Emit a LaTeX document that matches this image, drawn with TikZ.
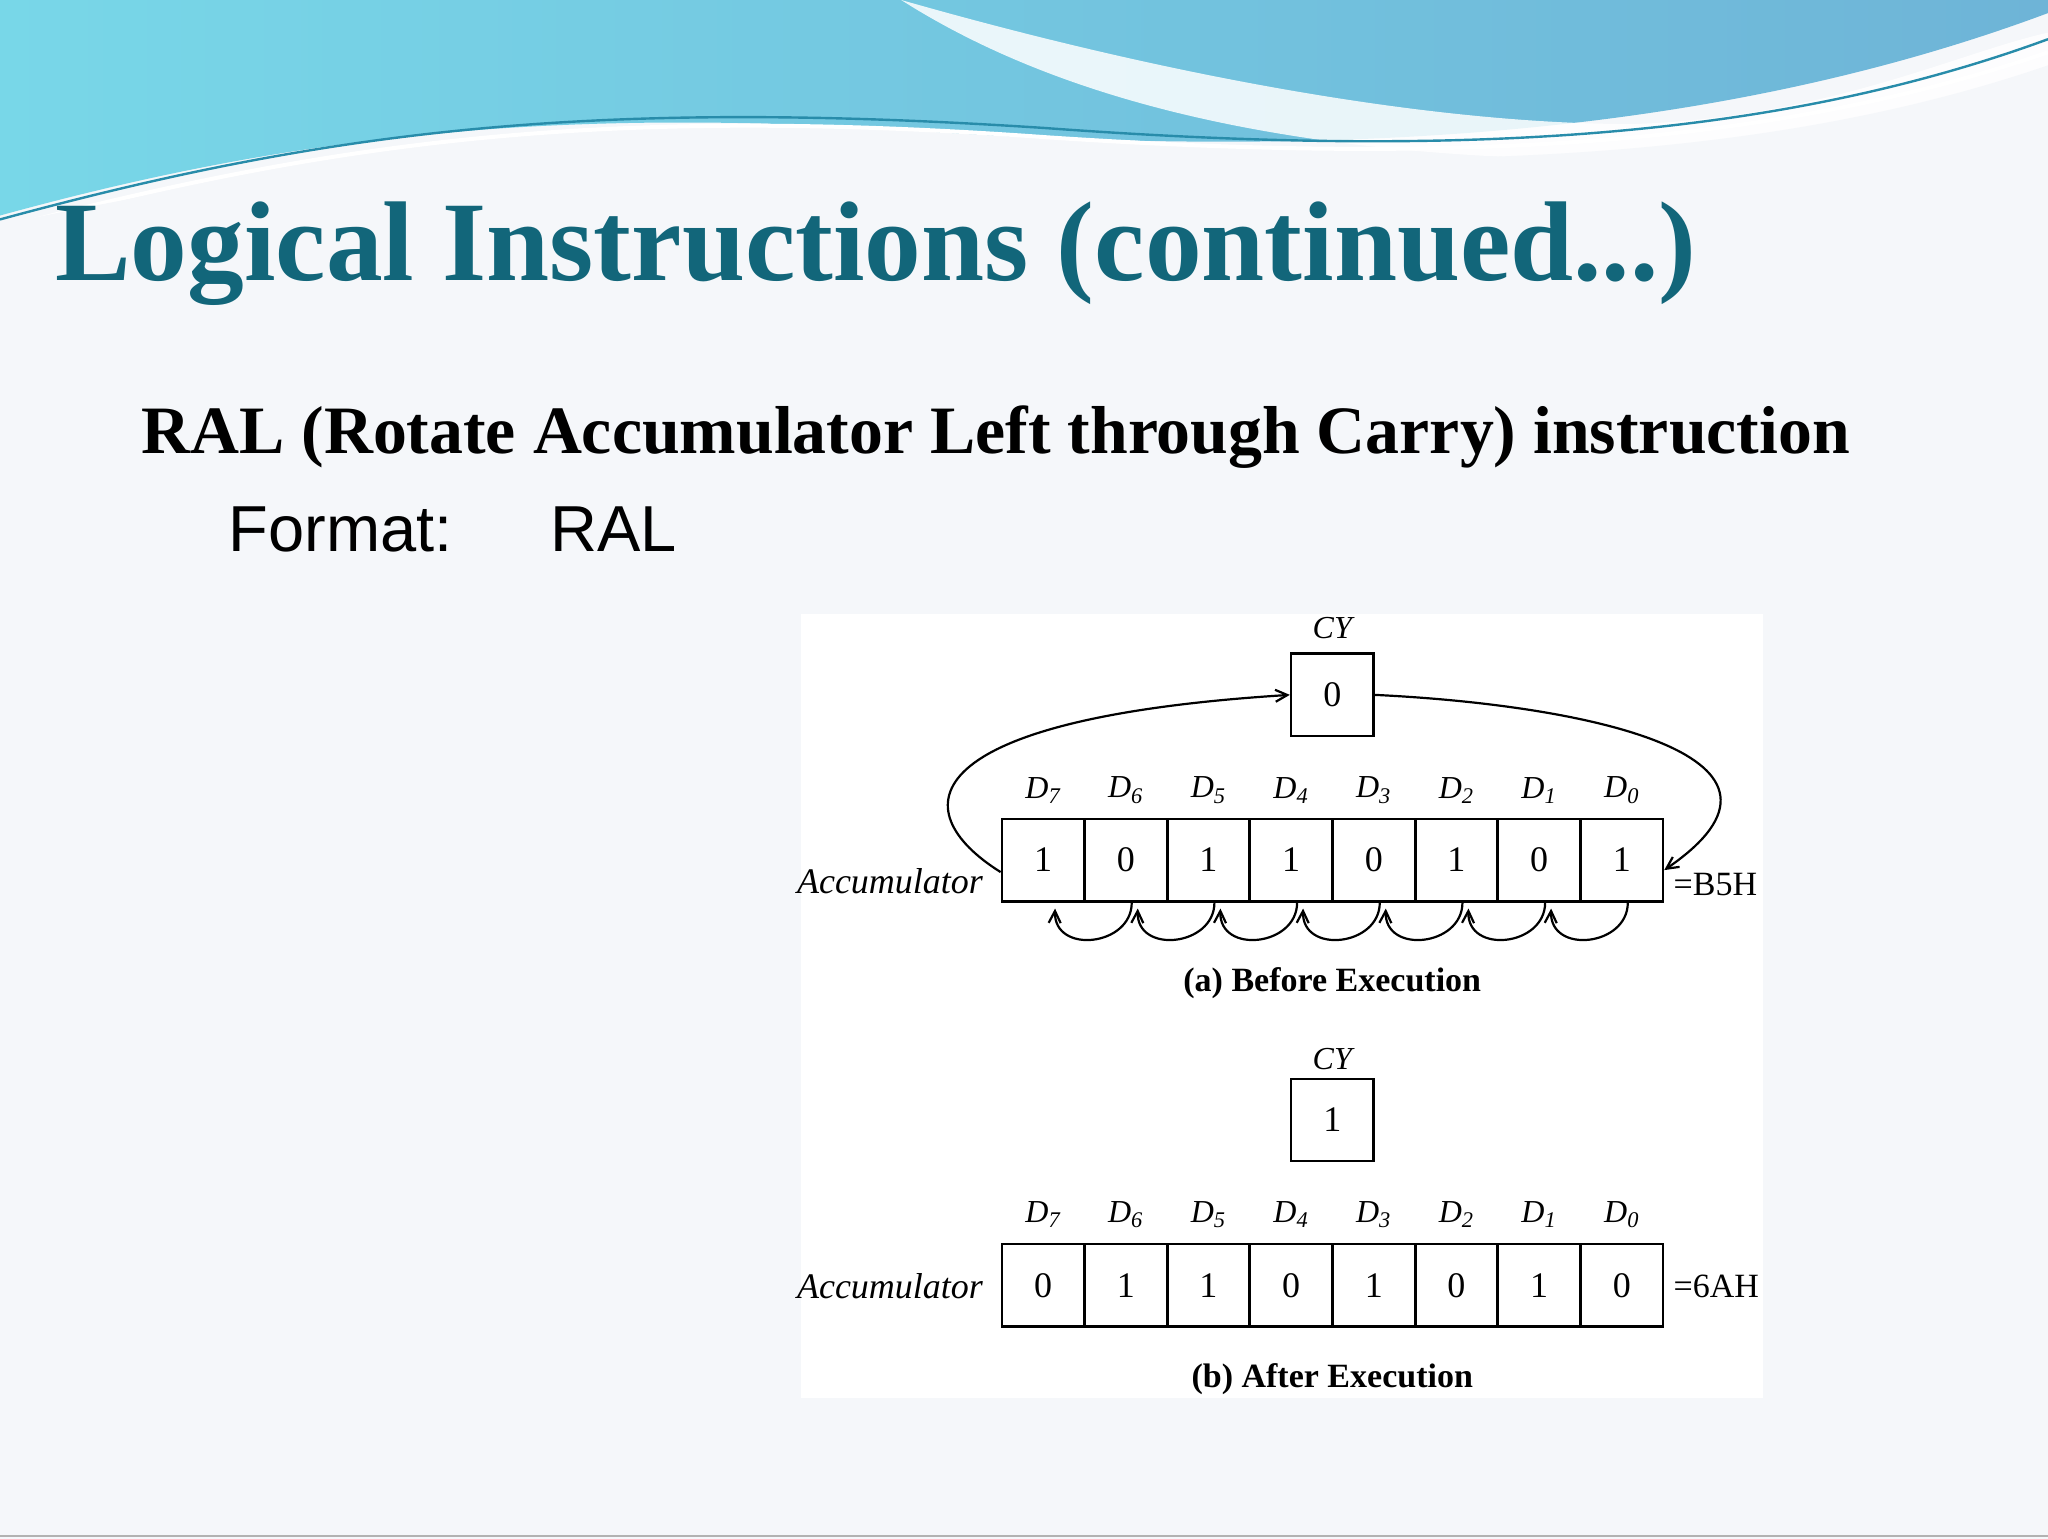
\documentclass[tikz,border=0pt]{standalone}
\usepackage{fontspec}
\setmainfont{Liberation Serif}
\setsansfont{Liberation Sans}
\usetikzlibrary{arrows.meta}
\definecolor{titlec}{HTML}{12667A}
\definecolor{bgc}{HTML}{F5F7FA}
\definecolor{wavel}{RGB}{120,215,232}
\definecolor{waver}{RGB}{110,180,215}
\definecolor{wavel2}{RGB}{40,140,170}
\tikzset{
  cell/.style={draw,line width=1.3pt,minimum width={63*0.6531pt},minimum height={63*0.6531pt},inner sep=0pt,font=\fontsize{18}{18}\selectfont},
  dlab/.style={font=\fontsize{16}{16}\selectfont\itshape},
  acc/.style={font=\fontsize{18}{18}\selectfont\itshape,anchor=east},
  hexl/.style={font=\fontsize{17}{17}\selectfont,anchor=west},
  capt/.style={font=\fontsize{17}{17}\selectfont\bfseries},
  arr/.style={line width=1.1pt,-{Straight Barb[length=6pt,width=6pt]}}
}
\begin{document}
\begin{tikzpicture}[x=0.6531pt,y=-0.6531pt]
\useasboundingbox (0,0) rectangle (1568,1178);
\fill[bgc] (0,0) rectangle (1568,1178);
% top wave
\shade[left color=wavel, right color=waver]
  (0,0) -- (0,165) .. controls (200,110) and (400,80) .. (700,100)
  .. controls (1000,120) and (1300,110) .. (1568,10) -- (1568,0) -- cycle;
\fill[white,opacity=0.85] (690,0) .. controls (900,60) and (1100,95) .. (1250,95)
  .. controls (1400,90) and (1500,40) .. (1568,25) -- (1568,60) .. controls (1450,100) and (1300,125) .. (1150,120)
  .. controls (950,110) and (800,70) .. (690,0) -- cycle;
\draw[white,line width=2pt] (0,175) .. controls (250,110) and (450,80) .. (800,105) .. controls (1100,125) and (1350,115) .. (1568,40);
\draw[wavel2,line width=1.2pt] (0,168) .. controls (250,100) and (450,75) .. (800,98) .. controls (1100,120) and (1350,110) .. (1568,30);
\fill[bgc] (0,172) .. controls (250,120) and (450,95) .. (800,115) .. controls (1100,130) and (1350,125) .. (1568,50) -- (1568,200) -- (0,200) -- cycle;
\draw[gray!60,line width=1pt] (0,1176) -- (1568,1176);
% titles
\node[anchor=base west,inner sep=0pt,text=titlec,font=\fontsize{56.7}{56.7}\selectfont\bfseries] (title) at (42,215) {Logical Instructions (continued...)};
\node[anchor=base west,inner sep=0pt,font=\fontsize{33.9}{33.9}\selectfont\bfseries] (sub) at (108,347) {RAL (Rotate Accumulator Left through Carry) instruction};
\node[anchor=base west,inner sep=0pt,font=\sffamily\fontsize{32.5}{32.5}\selectfont] (fmt) at (175,422) {Format:};
\node[anchor=base west,inner sep=0pt,font=\sffamily\fontsize{32.5}{32.5}\selectfont] (fral) at (421,422) {RAL};
% diagram background
\fill[white] (613,470) rectangle (1350,1070);
% ---- (a)
\node[cell] (cya) at (1020,532) {0};
\node[dlab] (cyla) at (1020,481) {CY};
\foreach \v [count=\i from 0] in {1,0,1,1,0,1,0,1}{
  \pgfmathtruncatemacro{\d}{7-\i}
  \node[cell] (a\i) at ({798.6+63.3*\i},658.5) {\v};
  \node[dlab] (la\i) at ({798.6+63.3*\i},605) {D\textsubscript{\d}};
}
\node[acc] (acca) at (758,675) {Accumulator};
\node[hexl] (hexa) at (1276,677) {=B5H};
\draw[arr] ([yshift=-6]a0.west) .. controls (690,620) and (700,550) .. (cya.west);
\draw[arr] (cya.east) .. controls (1220,540) and (1400,580) .. ([yshift=-5]a7.east);
\foreach \i [evaluate=\i as \j using int(\i-1)] in {1,...,7}{
  \draw[arr] ([xshift=3]a\i.south) .. controls ([xshift=3,yshift=-22]a\i.south) and ([xshift=-36,yshift=-26]a\i.south) .. ([xshift=6,yshift=-3]a\j.south);
}
\node[capt] (capa) at (1020,753) {(a) Before Execution};
% ---- (b)
\node[cell] (cyb) at (1020,857.5) {1};
\node[dlab] (cylb) at (1020,811) {CY};
\foreach \v [count=\i from 0] in {0,1,1,0,1,0,1,0}{
  \pgfmathtruncatemacro{\d}{7-\i}
  \node[cell] (b\i) at ({798.6+63.3*\i},984) {\v};
  \node[dlab] (lb\i) at ({798.6+63.3*\i},930) {D\textsubscript{\d}};
}
\node[acc] (accb) at (758,985) {Accumulator};
\node[hexl] (hexb) at (1276,985) {=6AH};
\node[capt] (capb) at (1020,1056) {(b) After Execution};
\end{tikzpicture}
\end{document}
